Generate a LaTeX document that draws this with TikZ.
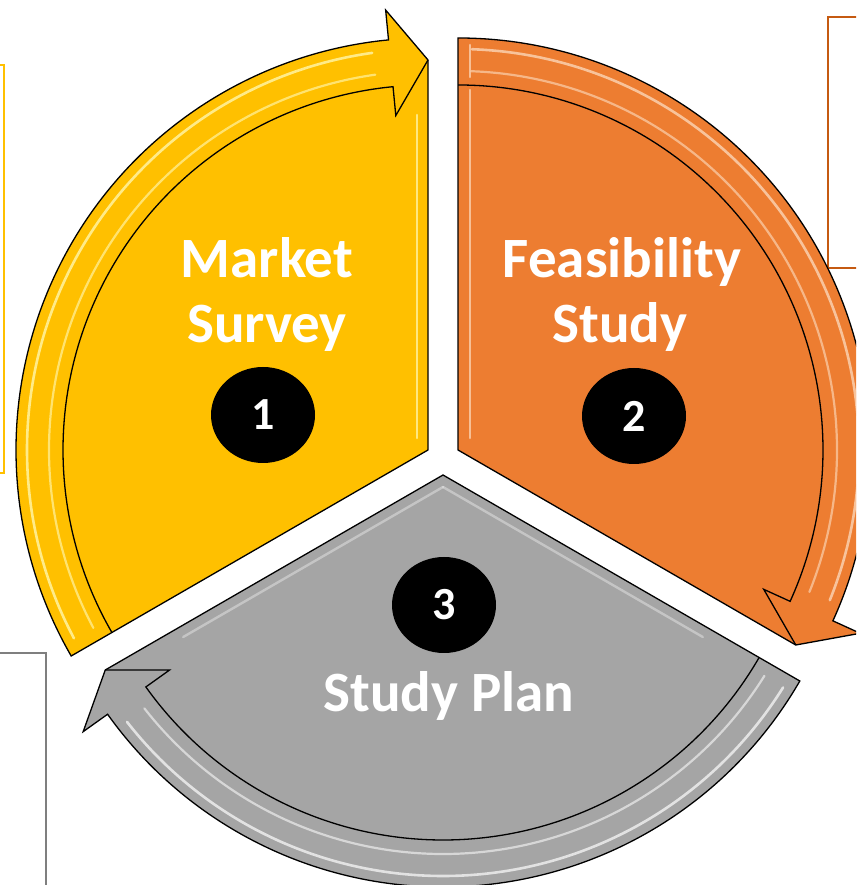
\documentclass[tikz,border=0pt]{standalone}
\usepackage{fontspec}
\setmainfont{Carlito}
\usetikzlibrary{shapes.geometric,calc}
\definecolor{segY}{HTML}{FFC000}
\definecolor{segO}{HTML}{ED7D31}
\definecolor{segG}{HTML}{A5A5A5}
\definecolor{hlY}{HTML}{FFF3A0}
\definecolor{hlO}{HTML}{FAD0AE}
\definecolor{hlG}{HTML}{EDEDED}
\definecolor{frameY}{HTML}{FFC000}
\definecolor{frameO}{HTML}{C55A11}
\definecolor{frameG}{HTML}{7F7F7F}
\newcommand{\segpart}[5]{%
  \begin{scope}[shift={#1}]
    \pgfmathsetmacro\segE{#2-120}
    \pgfmathsetmacro\segB{#2-114.5}
    \pgfmathsetmacro\segHa{#2-2}
    \pgfmathsetmacro\segHb{#2-112}
    \coordinate (#5) at (0,0);
    \fill[#3] (0,0) -- (#2:412pt) arc[start angle=#2, end angle=\segB, radius=412pt]
      -- (\segB:442pt) -- (\segE:390pt) -- cycle;
    \draw[#4, line width=2.6pt, opacity=.85, line cap=round]
      (\segHa:401pt) arc[start angle=\segHa, end angle=\segHb, radius=401pt];
    \draw[#4, line width=2.2pt, opacity=.7, line cap=round]
      (\segHa:379pt) arc[start angle=\segHa, end angle=\segHb, radius=379pt];
    \draw[outl] (0,0) -- (#2:412pt) arc[start angle=#2, end angle=\segB, radius=412pt]
      -- (\segB:442pt) -- (\segE:390pt) -- cycle;
    \draw[outl] (#2:365pt) arc[start angle=#2, end angle=\segB, radius=365pt]
      -- (\segB:336pt) -- (\segE:390pt);
  \end{scope}}
\begin{document}
\begin{tikzpicture}[x=1pt,y=1pt,
  outl/.style={draw=black, line width=1.3pt, line join=miter},
  lab/.style={text=white, font=\bfseries\fontsize{57}{65}\selectfont, inner sep=0pt, anchor=base},
  num/.style={ellipse, fill=black, minimum width=104pt, minimum height=96pt, inner sep=0pt,
    text=white, font=\bfseries\fontsize{46}{50}\selectfont},
  framebox/.style={line width=1.3pt}]
\useasboundingbox (0,0) rectangle (856,885);
\clip (0,0) rectangle (856,885);
% side frames (partly outside the picture)
\draw[framebox, frameY] (-20,820) rectangle (4,412);
\draw[framebox, frameO] (828,868) rectangle (880,617);
\draw[framebox, frameG] (-20,232) rectangle (46,-20);
% segments
\segpart{(428,435)}{210}{segY}{hlY}{a1}
\segpart{(458,435)}{90}{segO}{hlO}{a2}
\segpart{(443,410)}{-30}{segG}{hlG}{a3}
% edge highlights
\draw[hlY, line width=2.6pt, opacity=.8, line cap=round] (417,447) -- (417,770);
\draw[hlO, line width=2.6pt, opacity=.8, line cap=round] (470,447) -- (470,795);
\draw[hlO, line width=2.6pt, opacity=.8, line cap=round] (470,808) -- (470,840);
\draw[hlG, line width=2.4pt, opacity=.45, line cap=round] (443,398) -- ($(443,398)+(210:300pt)$);
\draw[hlG, line width=2.4pt, opacity=.45, line cap=round] (443,398) -- ($(443,398)+(-30:300pt)$);
% labels
\node[lab] (t1a) at (267,607) {Market};
\node[lab] (t1b) at (267,542) {Survey};
\node[lab] (t2a) at (622,607) {Feasibility};
\node[lab] (t2b) at (620,542) {Study};
\node[lab] (t3) at (449,173) {Study Plan};
% number badges
\node[num] (n1) at (263,470) {1};
\node[num] (n2) at (634,469) {2};
\node[num] (n3) at (444,280) {3};
\end{tikzpicture}
\end{document}
